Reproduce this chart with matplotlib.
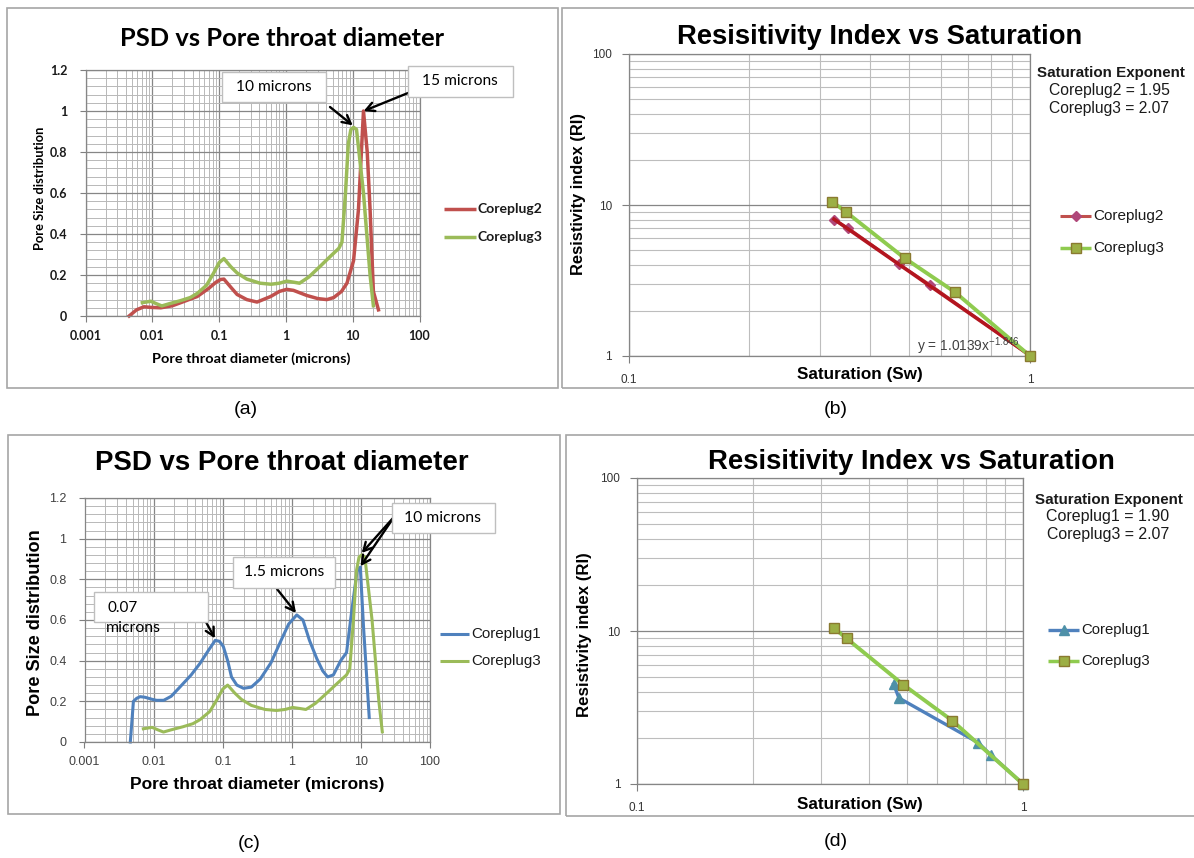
import numpy as np
import matplotlib
matplotlib.use('Agg')
import matplotlib.pyplot as plt
from matplotlib.patches import Rectangle
from matplotlib.lines import Line2D
from matplotlib.ticker import LogLocator, NullFormatter, MultipleLocator, FuncFormatter, FixedLocator

plt.rcParams['mathtext.default'] = 'regular'

# ---------------- data ----------------
# Panel (a)/(c): pore size distribution vs pore throat diameter (microns)
cp2_psd_x = [0.0045, 0.0058, 0.0075, 0.0095, 0.0134, 0.02, 0.0266, 0.047, 0.07, 0.09, 0.105, 0.118,
             0.15, 0.186, 0.26, 0.37, 0.59, 0.8, 1.03, 1.3, 2.06, 3.0, 4.1, 5.2, 6.8, 8.2, 10.3, 12.2,
             14.5, 16.5, 18.2, 20.4, 24.3]
cp2_psd_y = [0.0, 0.03, 0.045, 0.042, 0.04, 0.05, 0.065, 0.095, 0.135, 0.165, 0.178, 0.18,
             0.14, 0.105, 0.08, 0.068, 0.095, 0.12, 0.13, 0.125, 0.1, 0.085, 0.08, 0.09, 0.12, 0.16, 0.27,
             0.52, 1.0, 0.8, 0.52, 0.12, 0.03]

cp3_psd_x = [0.0071, 0.0095, 0.0115, 0.0139, 0.018, 0.0266, 0.037, 0.047, 0.065, 0.083, 0.1, 0.118,
             0.15, 0.186, 0.26, 0.41, 0.6, 0.8, 1.03, 1.3, 1.6, 2.2, 3.2, 4.6, 6.2, 6.9, 7.8, 8.6, 9.4,
             10.3, 11.4, 14.5, 18.2, 20.4]
cp3_psd_y = [0.065, 0.072, 0.06, 0.049, 0.06, 0.075, 0.09, 0.11, 0.15, 0.21, 0.26, 0.28,
             0.24, 0.21, 0.18, 0.16, 0.155, 0.16, 0.17, 0.165, 0.16, 0.19, 0.24, 0.29, 0.33, 0.36, 0.6,
             0.84, 0.91, 0.92, 0.91, 0.6, 0.2, 0.05]

cp1_psd_x = [0.0046, 0.0049, 0.0051, 0.0057, 0.0064, 0.0075, 0.0095, 0.011, 0.014, 0.018, 0.024, 0.035,
             0.047, 0.062, 0.078, 0.09, 0.102, 0.118, 0.134, 0.16, 0.2, 0.26, 0.35, 0.5, 0.7, 0.9, 1.18,
             1.45, 1.8, 2.3, 2.8, 3.3, 4.0, 5.1, 6.2, 7.4, 8.8, 9.8, 10.9, 13.2]
cp1_psd_y = [0.0, 0.12, 0.2, 0.215, 0.223, 0.22, 0.21, 0.205, 0.205, 0.225, 0.27, 0.33,
             0.387, 0.45, 0.5, 0.495, 0.47, 0.4, 0.32, 0.28, 0.264, 0.27, 0.31, 0.39, 0.5, 0.58, 0.625,
             0.6, 0.5, 0.41, 0.35, 0.32, 0.33, 0.4, 0.44, 0.65, 0.84, 0.86, 0.57, 0.12]

# Panel (b): resistivity index vs water saturation
b_cp2_sw = [0.325, 0.352, 0.472, 0.565, 1.0]
b_cp2_ri = [7.95, 7.05, 4.05, 2.95, 1.0]
b_trend_sw = [0.325, 1.0]
b_trend_ri = [8.05, 1.01]
b_cp3_sw = [0.322, 0.348, 0.487, 0.650, 1.0]
b_cp3_ri = [10.5, 9.0, 4.45, 2.65, 1.0]

# Panel (d)
d_cp1_sw = [0.462, 0.477, 0.766, 0.825, 1.0]
d_cp1_ri = [4.5, 3.65, 1.86, 1.55, 1.0]
d_cp3_sw = [0.323, 0.349, 0.490, 0.655, 1.0]
d_cp3_ri = [10.5, 8.95, 4.45, 2.6, 1.0]

psd_xticks = [0.001, 0.01, 0.1, 1, 10, 100]
ri_xticks = [0.1, 1]
ri_yticks = [1, 10, 100]

# ---------------- layout helpers ----------------
W, H = 1194, 858
fig = plt.figure(figsize=(W / 100, H / 100), dpi=100)
fig.patch.set_facecolor('white')
renderer = fig.canvas.get_renderer()

def rect(l, t, r, b):
    return [l / W, 1 - b / H, (r - l) / W, (b - t) / H]

def fx(x):
    return x / W

def fy(y):
    return 1 - y / H

def ftext(x, y, s, width=None, height=None, size=10, ha='center', va='center', **kw):
    t = fig.text(fx(x), fy(y), s, ha=ha, va=va, fontsize=size, **kw)
    if width or height:
        bb = t.get_window_extent(renderer=renderer)
        cur = bb.width if width else bb.height
        target = width if width else height
        t.set_fontsize(size * target / cur)
    return t

def frame(l, t, r, b):
    fig.patches.append(Rectangle((fx(l), fy(b)), (r - l) / W, (b - t) / H, transform=fig.transFigure,
                                 fill=False, edgecolor='#A6A6A6', lw=1.2, zorder=0))

def box(l, t, r, b):
    fig.patches.append(Rectangle((fx(l), fy(b)), (r - l) / W, (b - t) / H, transform=fig.transFigure,
                                 facecolor='white', edgecolor='#BFBFBF', lw=1.0, zorder=2.5))

def legend_entry(x0, x1, y, color, lw, label, text_w, family, weight='normal', marker=None,
                 mfc=None, mec=None, ms=7):
    fig.add_artist(Line2D([fx(x0), fx(x1)], [fy(y), fy(y)], transform=fig.transFigure, color=color,
                          lw=lw, solid_capstyle='butt'))
    if marker:
        xm = (x0 + x1) / 2
        fig.add_artist(Line2D([fx(xm)], [fy(y)], transform=fig.transFigure, marker=marker, ms=ms,
                              mfc=mfc, mec=mec, ls='none'))
    ftext(x1 + 2, y, label, ha='left', width=text_w, family=family, weight=weight, color='#1A1A1A')

def arrow(ax, tip, start_px):
    ax.annotate('', xy=tip, xycoords='data', xytext=(start_px[0], H - start_px[1]),
                textcoords='figure pixels',
                arrowprops=dict(arrowstyle='->,head_length=0.6,head_width=0.32', lw=1.7, color='black',
                                shrinkA=0, shrinkB=0), annotation_clip=False)

fmt = FuncFormatter(lambda v, p: f'{v:g}')

def psd_axes(r, tick_family, tick_weight, tick_size, tick_color):
    ax = fig.add_axes(rect(*r))
    ax.set_xscale('log')
    ax.set_xlim(0.001, 100)
    ax.set_ylim(0, 1.2)
    ax.xaxis.set_major_locator(FixedLocator(psd_xticks))
    ax.xaxis.set_minor_locator(LogLocator(base=10, subs=np.arange(2, 10), numticks=20))
    ax.xaxis.set_minor_formatter(NullFormatter())
    ax.xaxis.set_major_formatter(fmt)
    ax.yaxis.set_major_locator(MultipleLocator(0.2))
    ax.yaxis.set_minor_locator(MultipleLocator(0.04))
    ax.yaxis.set_major_formatter(fmt)
    ax.grid(which='major', color='#868686', lw=0.9)
    ax.grid(which='minor', color='#B8B8B8', lw=0.7)
    ax.set_axisbelow(True)
    for s in ax.spines.values():
        s.set_color('#868686')
        s.set_linewidth(0.9)
    ax.tick_params(which='minor', length=0)
    ax.tick_params(axis='x', which='major', length=4, color='#7F7F7F', pad=6)
    ax.tick_params(axis='y', which='major', length=4, color='#7F7F7F', pad=9)
    for lab in ax.get_xticklabels() + ax.get_yticklabels():
        lab.set_family(tick_family)
        lab.set_weight(tick_weight)
        lab.set_fontsize(tick_size)
        lab.set_color(tick_color)
    return ax

def ri_axes(r):
    ax = fig.add_axes(rect(*r))
    ax.set_xscale('log')
    ax.set_yscale('log')
    ax.set_xlim(0.1, 1)
    ax.set_ylim(1, 100)
    ax.xaxis.set_major_locator(FixedLocator(ri_xticks))
    ax.xaxis.set_minor_locator(LogLocator(base=10, subs=np.arange(2, 10), numticks=10))
    ax.yaxis.set_major_locator(FixedLocator(ri_yticks))
    ax.yaxis.set_minor_locator(LogLocator(base=10, subs=np.arange(2, 10), numticks=10))
    ax.xaxis.set_minor_formatter(NullFormatter())
    ax.yaxis.set_minor_formatter(NullFormatter())
    ax.xaxis.set_major_formatter(fmt)
    ax.yaxis.set_major_formatter(fmt)
    ax.grid(which='major', color='#868686', lw=0.9)
    ax.grid(which='minor', color='#BDBDBD', lw=0.8)
    ax.set_axisbelow(True)
    for s in ax.spines.values():
        s.set_color('#868686')
        s.set_linewidth(0.9)
    ax.tick_params(which='minor', length=0)
    ax.tick_params(axis='x', which='major', length=5, color='#7F7F7F', pad=8)
    ax.tick_params(axis='y', which='major', length=5, color='#7F7F7F', pad=7)
    for lab in ax.get_xticklabels() + ax.get_yticklabels():
        lab.set_family('Liberation Sans')
        lab.set_fontsize(8.5)
        lab.set_color('#333333')
    return ax

RED = '#C0504D'
GREEN = '#9BBB59'
BLUE = '#4F81BD'
LATO = 'Lato'
ARIAL = 'Liberation Sans'
NARROW = ['Liberation Sans Narrow', 'Liberation Sans']

# ---------------- frames ----------------
frame(7, 8, 558, 388)
frame(562, 8, 1200, 388)
frame(8, 435, 560, 814)
frame(566, 435, 1200, 816)

# ---------------- panel (a) ----------------
ax_a = psd_axes((85.5, 70, 419.5, 316), LATO, 'bold', 9, '#1A1A1A')
ax_a.plot(cp2_psd_x, cp2_psd_y, color=RED, lw=2.5, solid_joinstyle='round', clip_on=False)
ax_a.plot(cp3_psd_x, cp3_psd_y, color=GREEN, lw=2.5, solid_joinstyle='round', clip_on=False)
ftext(282, 38, 'PSD vs Pore throat diameter', width=324, family=LATO, weight='bold')
ftext(39.5, 188, 'Pore Size distribution', height=123, rotation=90, family=LATO, weight='bold')
ftext(251, 359, 'Pore throat diameter (microns)', width=198, family=LATO, weight='bold')
legend_entry(444, 476, 209, RED, 2.5, 'Coreplug2', 65, LATO, 'bold')
legend_entry(444, 476, 237, GREEN, 2.5, 'Coreplug3', 65, LATO, 'bold')
box(222, 72, 326, 102)
ftext(274, 87, '10 microns', width=76, family=LATO)
box(408, 66, 513, 97)
ftext(460, 81, '15 microns', width=76, family=LATO)
arrow(ax_a, (10.0, 0.93), (330, 107))
arrow(ax_a, (14.6, 1.0), (408, 93))
ftext(246, 410, '(a)', size=14, family=ARIAL)

# ---------------- panel (b) ----------------
ax_b = ri_axes((628.5, 54, 1030, 356))
ax_b.plot(b_cp2_sw, b_cp2_ri, color='#C0504D', lw=2, marker='D', ms=5.5, mfc='#B0487A', mec='#B0487A',
          clip_on=False, zorder=3)
ax_b.plot(b_trend_sw, b_trend_ri, color='#B3151F', lw=2.6, clip_on=False, zorder=4)
ax_b.plot(b_cp3_sw, b_cp3_ri, color='#8FCB4F', lw=2.8, marker='s', ms=7.5, mfc='#9CAF45',
          mec='#8A7A30', mew=1.0, clip_on=False, zorder=5)
ftext(880, 37, 'Resisitivity Index vs Saturation', width=406, family=ARIAL, weight='bold')
ftext(578, 194, 'Resistivity index (RI)', height=163, rotation=90, family=ARIAL, weight='bold')
ftext(860, 375, 'Saturation (Sw)', width=125, family=NARROW, weight='bold')
ftext(1111, 73, 'Saturation Exponent', width=148, family=NARROW, weight='bold', color='#1A1A1A')
ftext(1109, 90, 'Coreplug2 = 1.95', width=121, family=NARROW, color='#1A1A1A')
ftext(1109, 108, 'Coreplug3 = 2.07', width=121, family=NARROW, color='#1A1A1A')
legend_entry(1060, 1091, 216, '#C0504D', 2.2, 'Coreplug2', 71, NARROW, marker='D', mfc='#B0487A',
             mec='#B0487A', ms=5.5)
legend_entry(1060, 1091, 248, '#8FCB4F', 2.5, 'Coreplug3', 71, NARROW, marker='s', mfc='#9CAF45',
             mec='#8A7A30', ms=7.5)
ftext(917, 346, r'y = 1.0139x$^{-1.846}$', ha='left', width=103, family=ARIAL, color='#404040')
ftext(836, 410, '(b)', size=14, family=ARIAL)

# ---------------- panel (c) ----------------
ax_c = psd_axes((84.5, 498, 430, 742), ARIAL, 'normal', 9, '#404040')
ax_c.plot(cp1_psd_x, cp1_psd_y, color=BLUE, lw=2.2, solid_joinstyle='round', clip_on=False)
ax_c.plot(cp3_psd_x, cp3_psd_y, color=GREEN, lw=2.2, solid_joinstyle='round', clip_on=False)
ftext(282, 463, 'PSD vs Pore throat diameter', width=373, family=ARIAL, weight='bold')
ftext(36, 623, 'Pore Size distribution', height=187, rotation=90, family=ARIAL, weight='bold')
ftext(257, 784, 'Pore throat diameter (microns)', width=254, family=ARIAL, weight='bold')
legend_entry(440, 469, 634, BLUE, 2.2, 'Coreplug1', 70, NARROW)
legend_entry(440, 469, 661, GREEN, 2.2, 'Coreplug3', 70, NARROW)
box(94, 592, 208, 622)
ftext(108, 608, '0.07', ha='left', width=30, family=LATO)
ftext(106, 628, 'microns', ha='left', width=55, family=LATO)
box(233, 557, 335, 588)
ftext(284, 572, '1.5 microns', width=80, family=LATO)
box(392, 503, 495, 533)
ftext(443, 518, '10 microns', width=77, family=LATO)
arrow(ax_c, (0.077, 0.51), (206, 622))
arrow(ax_c, (1.15, 0.635), (277, 589))
arrow(ax_c, (10.3, 0.93), (394, 517))
arrow(ax_c, (9.9, 0.865), (394, 517))
ftext(249, 843, '(c)', size=14, family=ARIAL)

# ---------------- panel (d) ----------------
ax_d = ri_axes((637, 478, 1023, 784))
ax_d.plot(d_cp1_sw, d_cp1_ri, color=BLUE, lw=2.4, marker='^', ms=7, mfc='#4E90A8', mec='#4E90A8',
          clip_on=False, zorder=3)
ax_d.plot(d_cp3_sw, d_cp3_ri, color='#8FCB4F', lw=2.8, marker='s', ms=7.5, mfc='#9CAF45',
          mec='#8A7A30', mew=1.0, clip_on=False, zorder=4)
ftext(911, 462, 'Resisitivity Index vs Saturation', width=407, family=ARIAL, weight='bold')
ftext(584, 635, 'Resistivity index (RI)', height=165, rotation=90, family=ARIAL, weight='bold')
ftext(860, 804, 'Saturation (Sw)', width=125, family=NARROW, weight='bold')
ftext(1109, 500, 'Saturation Exponent', width=148, family=NARROW, weight='bold', color='#1A1A1A')
ftext(1108, 517, 'Coreplug1 = 1.90', width=123, family=NARROW, color='#1A1A1A')
ftext(1108, 535, 'Coreplug3 = 2.07', width=123, family=NARROW, color='#1A1A1A')
legend_entry(1048, 1079, 630, BLUE, 2.4, 'Coreplug1', 69, NARROW, marker='^', mfc='#4E90A8',
             mec='#4E90A8', ms=7)
legend_entry(1048, 1079, 661, '#8FCB4F', 2.5, 'Coreplug3', 69, NARROW, marker='s', mfc='#9CAF45',
             mec='#8A7A30', ms=7.5)
ftext(836, 842, '(d)', size=14, family=ARIAL)

fig.savefig('out.png', dpi=100, facecolor='white')
